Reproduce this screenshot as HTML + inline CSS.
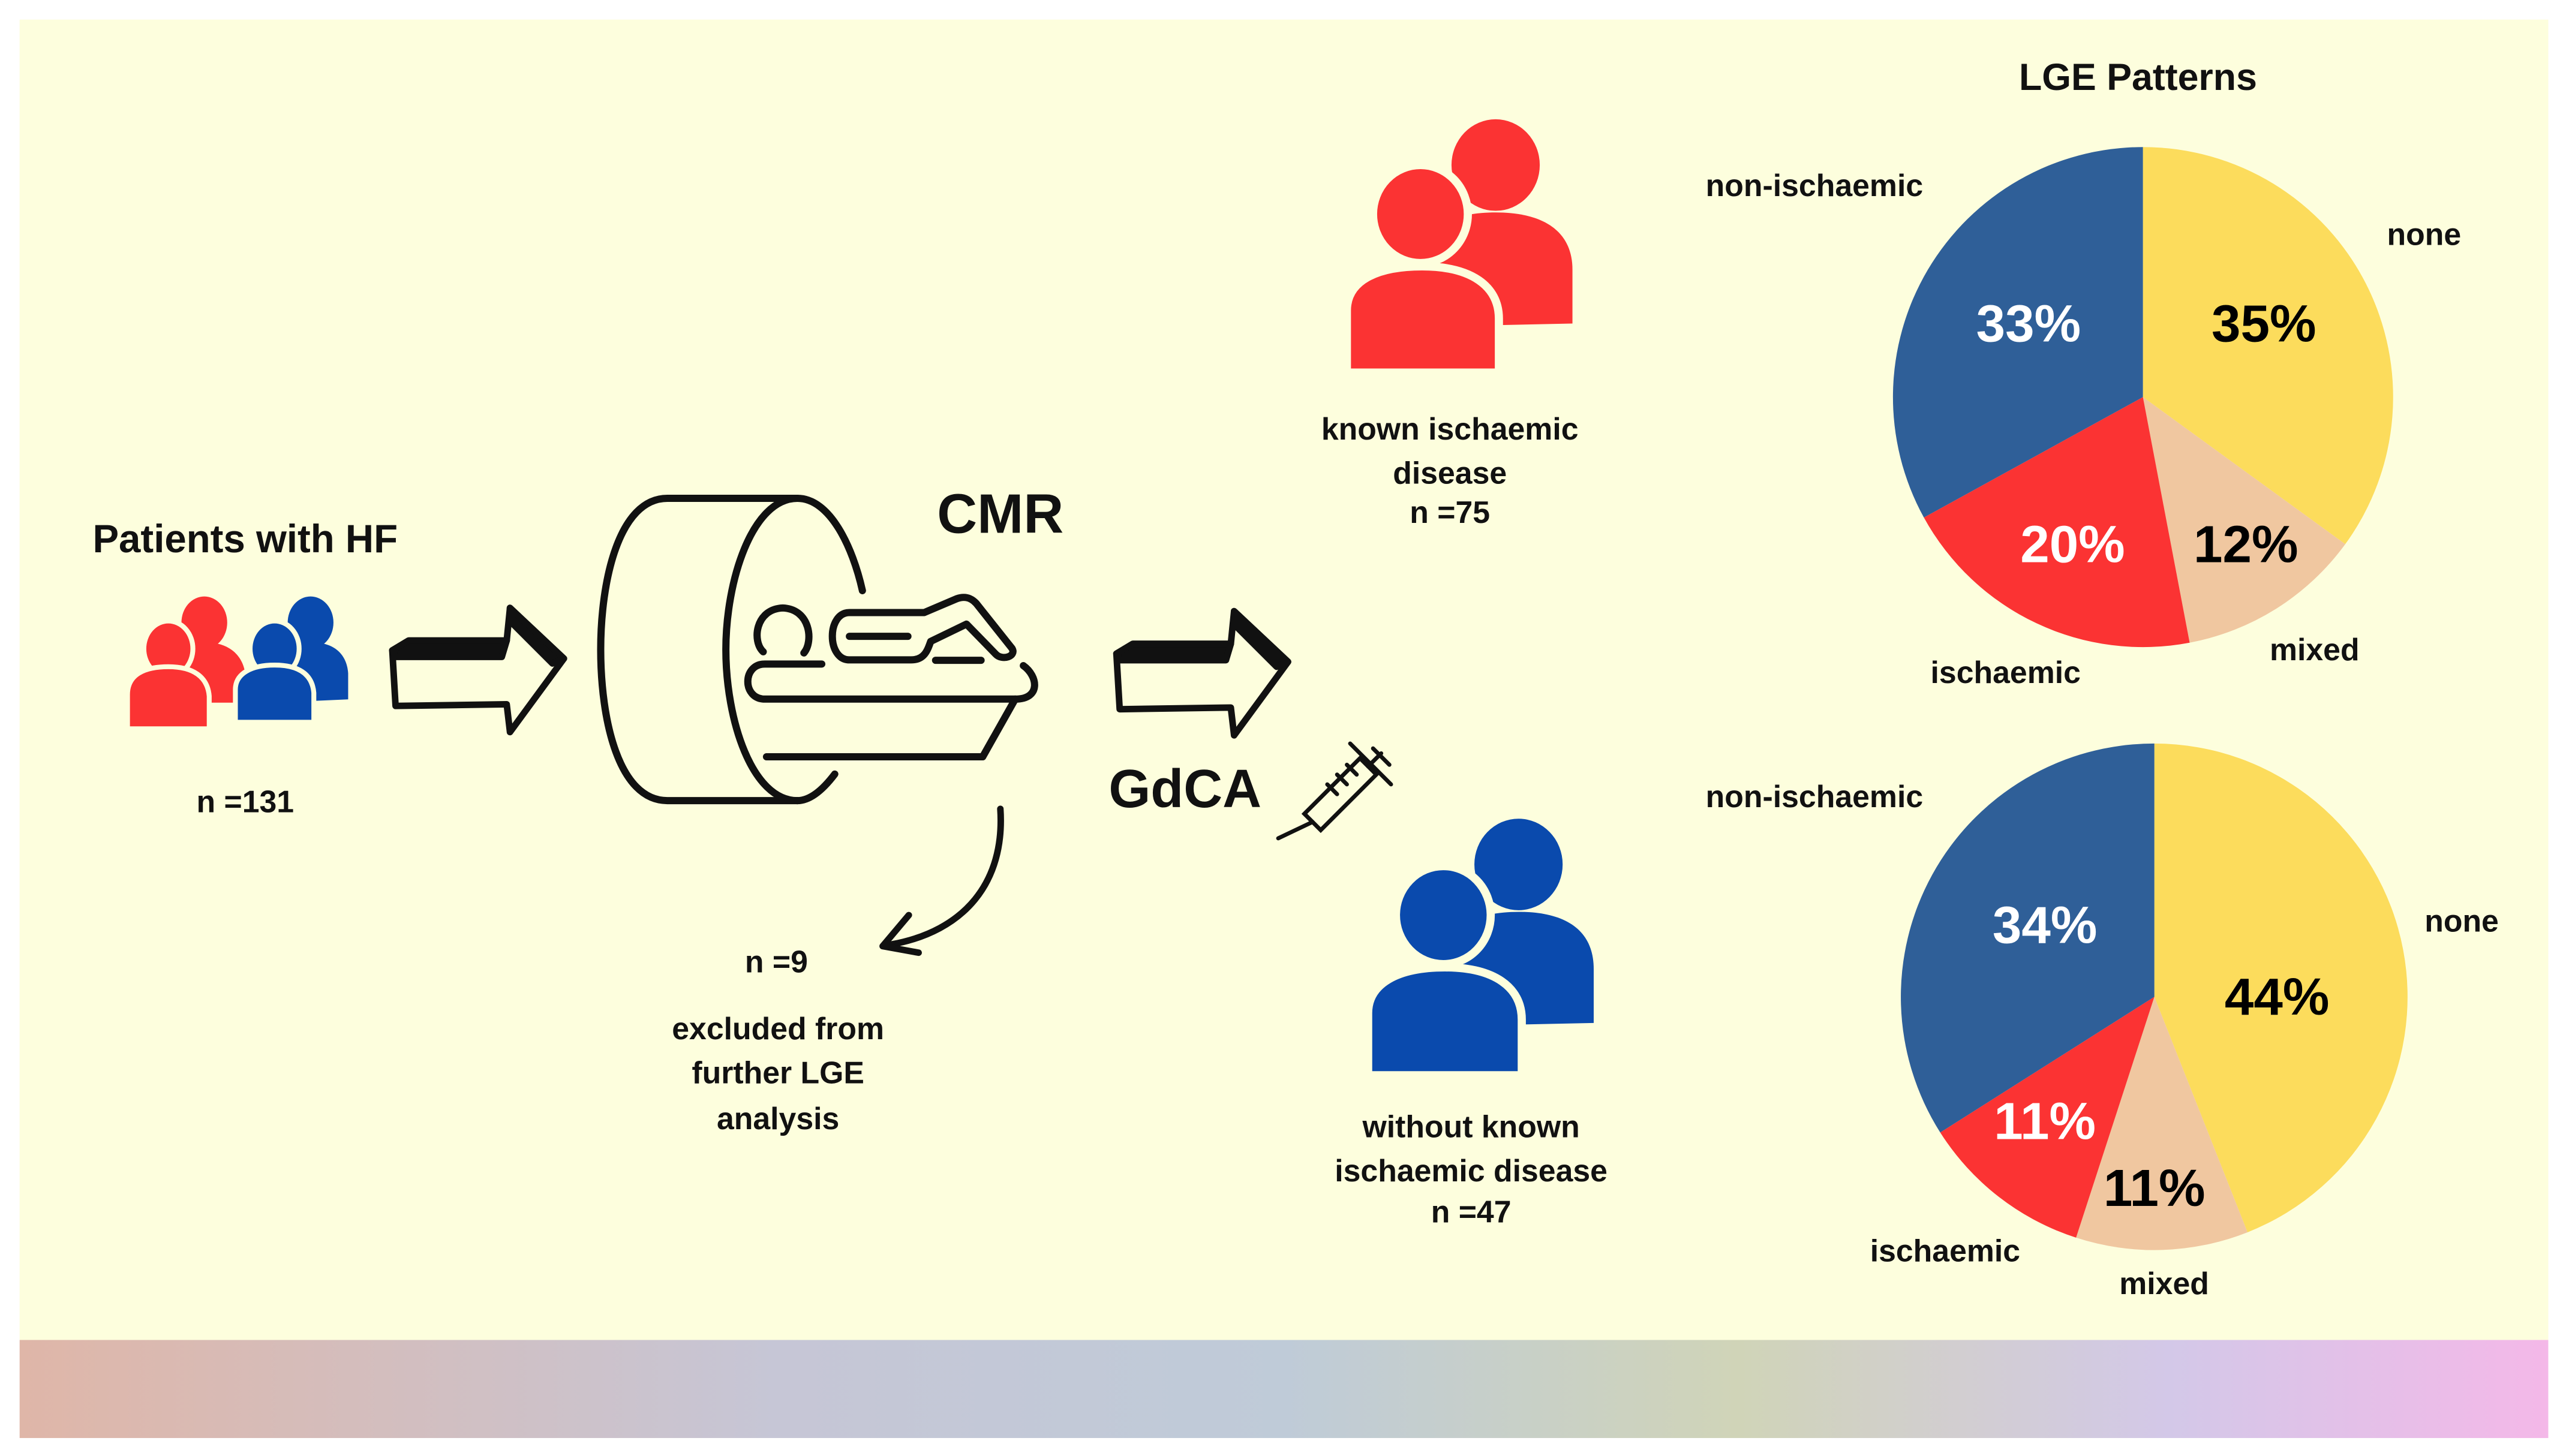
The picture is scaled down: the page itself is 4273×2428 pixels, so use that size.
<!DOCTYPE html>
<html><head><style>html,body{margin:0;padding:0;background:#fff;overflow:hidden;width:4273px;height:2428px}svg{display:block}
text{font-family:"Liberation Sans",sans-serif;font-weight:bold;text-anchor:middle}</style></head>
<body>
<svg width="4273" height="2428" viewBox="0 0 1568 891" preserveAspectRatio="none" xmlns="http://www.w3.org/2000/svg">
<defs>
<linearGradient id="g" x1="0" x2="1" y1="0" y2="0">
<stop offset="0" stop-color="#dfb6a8"/><stop offset="0.3" stop-color="#c6c6d6"/><stop offset="0.5" stop-color="#bfcbd8"/><stop offset="0.68" stop-color="#d0d4b8"/><stop offset="0.85" stop-color="#d3c8e8"/><stop offset="1" stop-color="#f4b8e8"/>
</linearGradient>
<radialGradient id="y" cx="0.5" cy="1" r="0.5">
<stop offset="0" stop-color="#e6dc7c" stop-opacity="1"/><stop offset="1" stop-color="#e6dc7c" stop-opacity="0"/>
</radialGradient>
<clipPath id="cb"><rect x="12" y="820" width="1547" height="60"/></clipPath>
</defs>
<rect x="12" y="12" width="1547" height="808" fill="#fdfedd"/>
<rect x="12" y="820" width="1547" height="60" fill="url(#g)"/>
<g clip-path="url(#cb)"><rect x="950" y="800" width="260" height="160" fill="url(#y)"/></g>

<g>
<ellipse cx="125" cy="381" rx="14" ry="16" fill="#fb3333"/>
<path d="M102,430 L102,410 C102,398 112,393 125,393 C138,393 148,399 150,412 L150,430 Z" fill="#fb3333"/>
<ellipse cx="103" cy="397" rx="15" ry="17" fill="#fb3333" stroke="#fdfedd" stroke-width="3"/>
<path d="M78,446 L78,425 C78,413 88,408 103,408 C118,408 127,414 128,426 L128,446 Z" fill="#fb3333" stroke="#fdfedd" stroke-width="3"/>
<ellipse cx="190" cy="381" rx="14" ry="16" fill="#0a4aad"/>
<path d="M168,430 L168,410 C168,398 177,393 190,393 C203,393 212,399 213,412 L213,428 Z" fill="#0a4aad"/>
<ellipse cx="168" cy="397" rx="15" ry="17" fill="#0a4aad" stroke="#fdfedd" stroke-width="3"/>
<path d="M144,442 L144,422 C144,412 154,407 168,407 C182,407 191,412 192,424 L192,442 Z" fill="#0a4aad" stroke="#fdfedd" stroke-width="3"/>
</g>

<g id="ba" fill="none" stroke="#111" stroke-width="4" stroke-linejoin="round">
<path d="M240,398 L242,432 L310,431 L312,448 L345,403 L312,372 L310,392 L250,392 Z"/>
<path d="M240,398 L250,392 L310,392 L307,402 L242,402 Z" fill="#111"/>
<path d="M312,372 L345,403 L338,406 L312,380 Z" fill="#111"/>
</g>
<use href="#ba" transform="translate(443,2)"/>

<g transform="translate(348.6,285.2) scale(0.1989,0.1412)" fill="none" stroke="#111" stroke-width="12" stroke-linecap="round" stroke-linejoin="round">
<path vector-effect="non-scaling-stroke" d="M700,140 L300,140 C150,140 95,500 95,795 C95,1100 150,1450 300,1450 L700,1450"/>
<path vector-effect="non-scaling-stroke" d="M700,140 C560,140 480,500 480,795 C480,1100 560,1450 700,1450"/>
<path vector-effect="non-scaling-stroke" d="M700,140 C800,140 870,350 900,540"/>
<path vector-effect="non-scaling-stroke" d="M815,1335 C780,1400 740,1450 700,1450"/>
<path vector-effect="non-scaling-stroke" d="M595,805 C560,760 570,620 655,615 C740,620 750,760 720,810"/>
<path vector-effect="non-scaling-stroke" d="M1090,635 L860,635 C790,635 790,840 860,840 L1050,840 C1090,840 1100,800 1110,760 L1220,685 L1310,815 C1330,845 1375,825 1360,790 L1250,595 C1230,565 1210,565 1190,575 Z"/>
<path vector-effect="non-scaling-stroke" d="M860,738 L1040,738 M1125,842 L1265,842"/>
<path vector-effect="non-scaling-stroke" d="M775,858 L600,858 C530,858 530,1010 600,1010 L1370,1010 C1450,1010 1440,910 1395,865"/>
<path vector-effect="non-scaling-stroke" d="M1370,1010 L1270,1260 L605,1260"/>
</g>
<path d="M612,495 C615,540 590,570 545,578" fill="none" stroke="#111" stroke-width="4" stroke-linecap="round"/>
<path d="M556,560 L540,579 L562,583" fill="none" stroke="#111" stroke-width="4" stroke-linecap="round" stroke-linejoin="round"/>

<g fill="none" stroke="#111" stroke-width="2.5" stroke-linecap="round">
<path d="M798,498 L832,464 L842,474 L808,508 Z"/>
<path d="M803,503 L782,513"/>
<path d="M837,469 L845,461 M840,458 L850,468 M826,455 L851,480"/>
<path d="M812,480 L818,486 M818,474 L824,480 M824,468 L830,474"/>
</g>

<ellipse cx="915" cy="101" rx="27" ry="28" fill="#fb3333"/>
<path d="M868,200 L868,160 C868,140 888,130 915,130 C945,130 962,142 962,165 L962,198 Z" fill="#fb3333"/>
<ellipse cx="869" cy="131" rx="29" ry="30" fill="#fb3333" stroke="#fdfedd" stroke-width="5"/>
<path d="M824,228 L824,190 C824,172 842,163 870,163 C900,163 917,175 917,195 L917,228 Z" fill="#fb3333" stroke="#fdfedd" stroke-width="5"/>

<ellipse cx="929" cy="529" rx="27" ry="28" fill="#0a4aad"/>
<path d="M882,628 L882,588 C882,568 902,558 929,558 C959,558 975,570 975,593 L975,626 Z" fill="#0a4aad"/>
<ellipse cx="883" cy="560" rx="29" ry="30" fill="#0a4aad" stroke="#fdfedd" stroke-width="5"/>
<path d="M837,658 L837,620 C837,602 855,592 884,592 C914,592 931,604 931,624 L931,658 Z" fill="#0a4aad" stroke="#fdfedd" stroke-width="5"/>

<path d="M1311,243 L1311,90 A153,153 0 0 1 1434.8,333 Z" fill="#fcdc5c"/>
<path d="M1311,243 L1434.8,333 A153,153 0 0 1 1339.6,393.3 Z" fill="#f0c7a0"/>
<path d="M1311,243 L1339.6,393.3 A153,153 0 0 1 1177,316.7 Z" fill="#fb3333"/>
<path d="M1311,243 L1177,316.7 A153,153 0 0 1 1311,90 Z" fill="#2f5f98"/>

<path d="M1318,610 L1318,455 A155,155 0 0 1 1375,754.1 Z" fill="#fcdc5c"/>
<path d="M1318,610 L1375,754.1 A155,155 0 0 1 1270.1,757.4 Z" fill="#f0c7a0"/>
<path d="M1318,610 L1270.1,757.4 A155,155 0 0 1 1187,693 Z" fill="#fb3333"/>
<path d="M1318,610 L1187,693 A155,155 0 0 1 1318,455 Z" fill="#2f5f98"/>

<g font-size="32">
<text x="1385" y="209">35%</text>
<text x="1374" y="344">12%</text>
<text x="1268" y="344" fill="#fff">20%</text>
<text x="1241" y="209" fill="#fff">33%</text>
<text x="1393" y="621">44%</text>
<text x="1318" y="738">11%</text>
<text x="1251" y="697" fill="#fff">11%</text>
<text x="1251" y="577" fill="#fff">34%</text>
</g>

<g font-size="19" fill="#111">
<text x="1308" y="55" font-size="23">LGE Patterns</text>
<text x="1110" y="120">non-ischaemic</text>
<text x="1483" y="150">none</text>
<text x="1227" y="418">ischaemic</text>
<text x="1416" y="404">mixed</text>
<text x="1110" y="494">non-ischaemic</text>
<text x="1506" y="570">none</text>
<text x="1190" y="772">ischaemic</text>
<text x="1324" y="792">mixed</text>
<text x="150" y="338" font-size="24">Patients with HF</text>
<text x="150" y="497">n =131</text>
<text x="612" y="326" font-size="34">CMR</text>
<text x="725" y="494" font-size="33">GdCA</text>
<text x="475" y="595">n =9</text>
<text x="476" y="636">excluded from</text>
<text x="476" y="663">further LGE</text>
<text x="476" y="691">analysis</text>
<text x="887" y="269">known ischaemic</text>
<text x="887" y="296">disease</text>
<text x="887" y="320">n =75</text>
<text x="900" y="696">without known</text>
<text x="900" y="723">ischaemic disease</text>
<text x="900" y="748">n =47</text>
</g>
</svg>
</body></html>
